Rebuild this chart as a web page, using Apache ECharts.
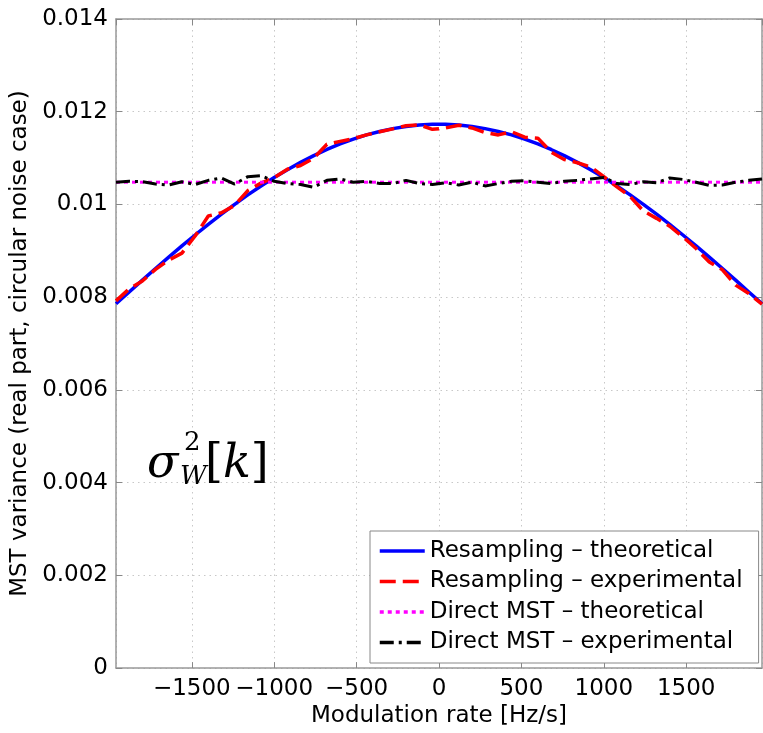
<!DOCTYPE html>
<html>
<head>
<meta charset="utf-8">
<script src="https://cdn.jsdelivr.net/npm/echarts@6/dist/echarts.min.js"></script>
<style>html,body{margin:0;padding:0;background:#fff;}#c{width:763px;height:733px;}</style>
</head>
<body>
<div id="c"></div>
<script>
// Modulation rate [Hz/s]
const modRate = [-1960,-1880,-1800,-1720,-1640,-1560,-1480,-1400,-1320,-1240,-1160,-1080,-1000,-920,-840,-760,-680,-600,-520,-440,-360,-280,-200,-120,-40,
  40,120,200,280,360,440,520,600,680,760,840,920,1000,1080,1160,1240,1320,1400,1480,1560,1640,1720,1800,1880,1960];
const resampTheo = [0.007858,0.008113,0.008367,0.008618,0.008864,0.009106,0.009341,0.009570,0.009791,0.010003,0.010206,0.010398,0.010580,0.010750,0.010908,0.011054,0.011186,0.011305,0.011409,0.011500,0.011575,0.011636,0.011682,0.011713,0.011728,
  0.011728,0.011713,0.011682,0.011636,0.011575,0.011500,0.011409,0.011305,0.011186,0.011054,0.010908,0.010750,0.010580,0.010398,0.010206,0.010003,0.009791,0.009570,0.009341,0.009106,0.008864,0.008618,0.008367,0.008113,0.007858];
const resampExp = [0.00792,0.00818,0.00835,0.00860,0.00880,0.00895,0.00932,0.00975,0.00982,0.00998,0.01030,0.01046,0.01058,0.01076,0.01084,0.01100,0.01130,0.01136,0.01142,0.01150,0.01157,0.01163,0.01170,0.01172,0.01162,
  0.01165,0.01171,0.01165,0.01155,0.01150,0.01157,0.01145,0.01143,0.01113,0.01097,0.01090,0.01081,0.01060,0.01038,0.01017,0.00986,0.00970,0.00953,0.00930,0.00905,0.00876,0.00859,0.00826,0.00808,0.00785];
const directTheoRate = [-1960, 1960];
const directTheo = [0.01048, 0.01048];
const directExp = [0.01048,0.01050,0.01049,0.01044,0.01042,0.01049,0.01043,0.01052,0.01057,0.01044,0.01060,0.01062,0.01050,0.01045,0.01043,0.01037,0.01052,0.01055,0.01048,0.01050,0.01045,0.01045,0.01052,0.01045,0.01043,
  0.01047,0.01042,0.01048,0.01040,0.01045,0.01050,0.01051,0.01048,0.01045,0.01050,0.01052,0.01055,0.01058,0.01045,0.01043,0.01049,0.01047,0.01057,0.01054,0.01048,0.01041,0.01042,0.01048,0.01052,0.01055];
const seriesNames = ['Resampling \u2013 theoretical','Resampling \u2013 experimental','Direct MST \u2013 theoretical','Direct MST \u2013 experimental'];

const FONT = 'DejaVu Sans';
const zip = (xs, ys) => xs.map((x, i) => [x, ys[i]]);
const chart = echarts.init(document.getElementById('c'));
const axisLineStyle = {color:'#999', width:1.5};
const tickStyle = {inside:true, length:6, lineStyle:{color:'#888', width:1}};
const gridLine = {show:true, lineStyle:{type:[1.5,4], color:'#c8c8c8', width:1}};
chart.setOption({
  animation:false,
  backgroundColor:'#fff',
  grid:{left:116, top:19, width:646, height:653},
  xAxis:[{
    type:'value', min:-1960, max:1960, splitNumber:8, position:'bottom',
    axisLine:{onZero:false, lineStyle:axisLineStyle}, axisTick:tickStyle, splitLine:gridLine,
    axisLabel:{color:'#000', fontSize:23, fontFamily:FONT, margin:9, showMinLabel:false, showMaxLabel:false,
      formatter:v => (v < 0 ? '\u2212' : '') + Math.abs(v)},
    name:'Modulation rate [Hz/s]', nameLocation:'middle', nameGap:35,
    nameTextStyle:{color:'#000', fontSize:23, fontFamily:FONT}
  },{
    type:'value', min:-1960, max:1960, splitNumber:8, position:'top',
    axisLine:{onZero:false, lineStyle:axisLineStyle}, axisTick:tickStyle, axisLabel:{show:false}, splitLine:{show:false}
  }],
  yAxis:[{
    type:'value', min:0, max:0.014, interval:0.002, position:'left',
    axisLine:{show:true, onZero:false, lineStyle:axisLineStyle}, axisTick:{show:true, ...tickStyle}, splitLine:gridLine,
    axisLabel:{color:'#000', fontSize:23, fontFamily:FONT, margin:8},
    name:'MST variance (real part, circular noise case)', nameLocation:'middle', nameGap:80,
    nameTextStyle:{color:'#000', fontSize:23, fontFamily:FONT}
  },{
    type:'value', min:0, max:0.014, interval:0.002, position:'right',
    axisLine:{show:true, onZero:false, lineStyle:axisLineStyle}, axisTick:{show:true, ...tickStyle}, axisLabel:{show:false}, splitLine:{show:false}
  }],
  legend:{
    orient:'vertical', left:370, top:531, itemWidth:45, itemHeight:20, itemGap:7.5,
    padding:[8.5,16,9,8], borderColor:'#888', borderWidth:1, backgroundColor:'#fff',
    itemStyle:{opacity:0, borderWidth:0},
    lineStyle:{width:3.5},
    textStyle:{color:'#000', fontSize:23, fontFamily:FONT}, data:seriesNames
  },
  series:[
    {name:seriesNames[0], type:'line', data:zip(modRate, resampTheo), showSymbol:false, symbol:'none',
      lineStyle:{color:'#0000ff', width:3.5, type:'solid'}, itemStyle:{color:'#0000ff'}},
    {name:seriesNames[1], type:'line', data:zip(modRate, resampExp), showSymbol:false, symbol:'none',
      lineStyle:{color:'#ff0000', width:3.5, type:[16,7]}, itemStyle:{color:'#ff0000'}},
    {name:seriesNames[2], type:'line', data:zip(directTheoRate, directTheo), showSymbol:false, symbol:'none',
      lineStyle:{color:'#ff00ff', width:3, type:[4,4]}, itemStyle:{color:'#ff00ff'}},
    {name:seriesNames[3], type:'line', data:zip(modRate, directExp), showSymbol:false, symbol:'none',
      lineStyle:{color:'#000000', width:3, type:[14,5,3,5]}, itemStyle:{color:'#000000'}}
  ],
  graphic:[
    {type:'text', x:147, y:465, z:100, style:{text:'\u03c3', fontSize:46, fontStyle:'italic', fontFamily:'DejaVu Serif', fill:'#000', verticalAlign:'middle'}},
    {type:'text', x:184, y:443, z:100, style:{text:'2', fontSize:26, fontFamily:'DejaVu Serif', fill:'#000', verticalAlign:'middle'}},
    {type:'text', x:180, y:477, z:100, style:{text:'W', fontSize:26, fontStyle:'italic', fontFamily:'DejaVu Serif', fill:'#000', verticalAlign:'middle'}},
    {type:'text', x:205, y:465, z:100, style:{text:'{b|[}{i|k}{b|]}', verticalAlign:'middle', fill:'#000',
      rich:{b:{fontSize:46, fontFamily:'DejaVu Serif', fill:'#000'}, i:{fontSize:46, fontStyle:'italic', fontFamily:'DejaVu Serif', fill:'#000'}}}}
  ]
});
</script>
</body>
</html>
